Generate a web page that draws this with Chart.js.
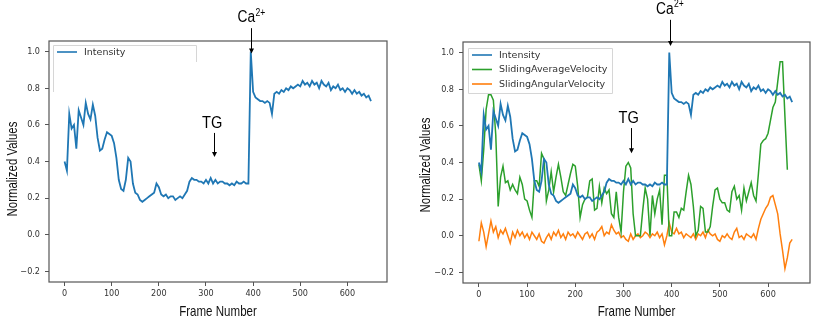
<!DOCTYPE html>
<html lang="en">
<head>
<meta charset="UTF-8">
<title>Intensity and velocity</title>
<style>
  body { margin: 0; background: #fff; }
  .painel { position: absolute; top: 0; width: 415px; height: 330px; }
  #esq { left: 0; }
  #dir { left: 414px; }
</style>
</head>
<body>
<div class="painel" id="esq"><canvas id="graficoIntensidade" width="415" height="330"></canvas></div>
<div class="painel" id="dir"><canvas id="graficoVelocidade" width="415" height="330"></canvas></div>
<script src="https://cdn.jsdelivr.net/npm/chart.js"></script>
<script>
const frames = [
  0, 5, 10, 15, 20, 25, 30, 35, 40, 45, 50, 55, 60, 65, 70, 75, 80, 85, 90, 95,
  100, 105, 110, 115, 120, 125, 130, 135, 140, 145, 150, 155, 160, 165, 170, 175, 180, 185, 190, 195,
  200, 205, 210, 215, 220, 225, 230, 235, 240, 245, 250, 255, 260, 265, 270, 275, 280, 285, 290, 295,
  300, 305, 310, 315, 320, 325, 330, 335, 340, 345, 350, 355, 360, 365, 370, 375, 380, 385, 390, 395,
  400, 405, 410, 415, 420, 425, 430, 435, 440, 445, 450, 455, 460, 465, 470, 475, 480, 485, 490, 495,
  500, 505, 510, 515, 520, 525, 530, 535, 540, 545, 550, 555, 560, 565, 570, 575, 580, 585, 590, 595,
  600, 605, 610, 615, 620, 625, 630, 635, 640, 645, 650
];

const intensity = [
  0.40, 0.35, 0.66, 0.58, 0.60, 0.47, 0.68, 0.64, 0.60, 0.72, 0.66, 0.63, 0.71, 0.65, 0.53, 0.46, 0.47, 0.52, 0.56, 0.55,
  0.54, 0.50, 0.42, 0.30, 0.25, 0.24, 0.30, 0.42, 0.40, 0.28, 0.23, 0.22, 0.19, 0.18, 0.19, 0.20, 0.21, 0.22, 0.23, 0.28,
  0.26, 0.22, 0.21, 0.22, 0.20, 0.21, 0.21, 0.19, 0.20, 0.21, 0.20, 0.22, 0.24, 0.29, 0.31, 0.30, 0.30, 0.29, 0.29, 0.28,
  0.30, 0.28, 0.31, 0.28, 0.30, 0.28, 0.29, 0.29, 0.28, 0.28, 0.27, 0.28, 0.27, 0.29, 0.28, 0.28, 0.29, 0.28, 0.28, 1.00,
  0.78, 0.75, 0.74, 0.73, 0.73, 0.72, 0.73, 0.72, 0.66, 0.77, 0.78, 0.77, 0.79, 0.78, 0.80, 0.79, 0.81, 0.80, 0.81, 0.82,
  0.81, 0.84, 0.82, 0.83, 0.81, 0.84, 0.82, 0.83, 0.80, 0.84, 0.82, 0.81, 0.83, 0.79, 0.81, 0.80, 0.82, 0.79, 0.80, 0.78,
  0.80, 0.79, 0.77, 0.79, 0.77, 0.78, 0.76, 0.77, 0.75, 0.76, 0.73
];

const slidingAverageVelocity = [
  0.39, 0.30, 0.47, 0.69, 0.77, 0.77, 0.74, 0.55, 0.16, 0.32, 0.38, 0.29, 0.30, 0.25, 0.28, 0.25, 0.23, 0.32, 0.28, 0.20,
  0.19, 0.14, 0.10, 0.30, 0.30, 0.27, 0.45, 0.42, 0.19, 0.25, 0.35, 0.24, 0.32, 0.39, 0.32, 0.24, 0.22, 0.28, 0.34, 0.39,
  0.38, 0.27, 0.10, 0.17, 0.20, 0.21, 0.30, 0.31, 0.14, 0.15, 0.27, 0.18, 0.26, 0.23, 0.25, 0.12, 0.10, 0.24, 0.10, 0.02,
  0.24, 0.38, 0.40, 0.37, 0.12, 0.00, 0.00, 0.00, 0.14, 0.26, 0.20, 0.00, 0.22, 0.12, 0.20, 0.25, 0.06, 0.33, 0.33, 0.00,
  0.00, 0.13, 0.13, 0.10, 0.15, 0.14, 0.24, 0.33, 0.28, 0.16, 0.00, 0.03, 0.16, 0.15, 0.02, 0.02, 0.05, 0.16, 0.25, 0.26,
  0.20, 0.18, 0.18, 0.14, 0.13, 0.24, 0.27, 0.20, 0.22, 0.14, 0.26, 0.19, 0.24, 0.29, 0.22, 0.19, 0.34, 0.50, 0.52, 0.53,
  0.56, 0.63, 0.70, 0.73, 0.84, 0.95, 0.95, 0.65, 0.36, null, null
];

const slidingAngularVelocity = [
  -0.03, 0.07, 0.02, -0.06, 0.01, 0.08, 0.02, 0.05, -0.01, 0.03, 0.01, 0.04, 0.00, -0.04, 0.02, -0.01, 0.03, 0.00, 0.02, -0.01,
  0.01, -0.02, 0.02, 0.00, -0.02, 0.01, -0.03, -0.04, -0.01, 0.01, -0.02, 0.02, 0.00, 0.03, -0.01, 0.01, -0.02, 0.02, 0.00, 0.01,
  -0.01, 0.02, 0.00, -0.02, 0.01, 0.02, -0.01, 0.01, -0.02, 0.02, 0.03, 0.05, 0.00, 0.02, 0.01, 0.06, 0.03, 0.01, 0.02, -0.01,
  0.00, -0.02, -0.03, 0.01, -0.02, 0.00, 0.01, -0.01, 0.00, 0.02, 0.01, -0.01, 0.01, 0.00, 0.02, -0.01, 0.01, -0.05, 0.00, 0.07,
  0.02, 0.01, 0.04, 0.01, 0.02, -0.01, 0.01, 0.00, -0.01, 0.01, -0.02, 0.01, 0.00, 0.02, -0.01, 0.03, 0.01, 0.00, 0.01, -0.02,
  -0.03, 0.00, -0.01, 0.01, -0.01, -0.02, 0.02, 0.04, -0.01, 0.00, -0.02, 0.01, 0.00, -0.01, 0.01, -0.02, 0.04, 0.09, 0.12, 0.15,
  0.17, 0.21, 0.22, 0.17, 0.12, 0.01, -0.08, -0.18, -0.12, -0.04, -0.02
];

const xTicks = [0, 100, 200, 300, 400, 500, 600];
const yTicks = [-0.2, 0.0, 0.2, 0.4, 0.6, 0.8, 1.0];

const azul = '#1f77b4';
const verde = '#2ca02c';
const laranja = '#ff7f0e';
const fonteTitulo = '"Liberation Sans", Arial, sans-serif';
const fonteTicks = '"DejaVu Sans Condensed", "DejaVu Sans", sans-serif';

function serie(label, valores, cor, largura) {
  return {
    label: label,
    data: frames.map((f, i) => ({ x: f, y: valores[i] })),
    borderColor: cor,
    backgroundColor: cor,
    borderWidth: largura,
    pointRadius: 0,
    tension: 0,
    spanGaps: false
  };
}

// texto comprimido na horizontal (fonte estreita)
function textoEstreito(ctx, texto, x, y, tamanho, k) {
  ctx.save();
  ctx.translate(x, y);
  ctx.scale(k, 1);
  ctx.font = tamanho + 'px ' + fonteTitulo;
  ctx.fillText(texto, 0, 0);
  const w = ctx.measureText(texto).width * k;
  ctx.restore();
  return w;
}

// moldura (spines) em volta da area do grafico
const moldura = {
  id: 'moldura',
  afterDatasetsDraw(chart) {
    const { ctx, chartArea: a } = chart;
    ctx.save();
    ctx.strokeStyle = '#555';
    ctx.lineWidth = 1.2;
    ctx.strokeRect(a.left, a.top, a.right - a.left, a.bottom - a.top);
    ctx.restore();
  }
};

// titulos dos eixos
function titulos(yCentro, xBase) {
  return {
    id: 'titulos',
    afterDraw(chart) {
      const ctx = chart.ctx;
      const a = chart.chartArea;
      ctx.save();
      ctx.fillStyle = '#111';
      ctx.textAlign = 'center';
      ctx.textBaseline = 'alphabetic';
      textoEstreito(ctx, 'Frame Number', (a.left + a.right) / 2, 316, 15, 0.77);
      ctx.translate(xBase, yCentro);
      ctx.rotate(-Math.PI / 2);
      textoEstreito(ctx, 'Normalized Values', 0, 0, 15, 0.76);
      ctx.restore();
    }
  };
}

// legenda desenhada dentro da area do grafico
function legenda(cfg) {
  return {
    id: 'legenda',
    afterDatasetsDraw(chart) {
      const ctx = chart.ctx;
      const a = chart.chartArea;
      const x = a.left + cfg.dx, y = a.top + cfg.dy;
      ctx.save();
      ctx.fillStyle = 'rgba(255,255,255,0.8)';
      ctx.fillRect(x, y, cfg.w, cfg.h);
      ctx.strokeStyle = '#d6d6d6';
      ctx.lineWidth = 1;
      ctx.beginPath();
      if (cfg.aberta) {
        ctx.moveTo(x + 0.5, y + cfg.h);
        ctx.lineTo(x + 0.5, y + 0.5);
        ctx.lineTo(x + cfg.w - 0.5, y + 0.5);
        ctx.lineTo(x + cfg.w - 0.5, y + 17);
      } else {
        ctx.rect(x + 0.5, y + 0.5, cfg.w - 1, cfg.h - 1);
      }
      ctx.stroke();
      ctx.font = '9.5px "DejaVu Sans", sans-serif';
      ctx.textBaseline = 'middle';
      chart.data.datasets.forEach((ds, i) => {
        const ly = y + 7 + i * 14.5;
        ctx.strokeStyle = ds.borderColor;
        ctx.lineWidth = 1.6;
        ctx.beginPath();
        ctx.moveTo(x + 4, ly);
        ctx.lineTo(x + 24, ly);
        ctx.stroke();
        ctx.fillStyle = '#333';
        ctx.fillText(ds.label, x + 31, ly + 0.5);
      });
      ctx.restore();
    }
  };
}

// textos "Ca2+" e "TG" com setas
function notas(lista) {
  return {
    id: 'notas',
    afterDraw(chart) {
      const ctx = chart.ctx;
      const sx = chart.scales.x, sy = chart.scales.y;
      ctx.save();
      lista.forEach(n => {
        const px = Math.round(sx.getPixelForValue(n.frame)) + 0.5;
        const yBase = sy.getPixelForValue(n.textY);
        const y0 = sy.getPixelForValue(n.from);
        const y1 = sy.getPixelForValue(n.to);
        ctx.fillStyle = '#000';
        ctx.textAlign = 'left';
        ctx.textBaseline = 'alphabetic';
        const w = textoEstreito(ctx, n.text, px + n.dx, yBase, n.size, 0.86);
        if (n.sup) {
          textoEstreito(ctx, n.sup, px + n.dx + w + 0.5, yBase - 6.5, 10, 0.86);
        }
        ctx.strokeStyle = '#000';
        ctx.lineWidth = 1;
        ctx.beginPath();
        ctx.moveTo(px, y0);
        ctx.lineTo(px, y1 - 4);
        ctx.stroke();
        ctx.beginPath();
        ctx.moveTo(px - 2.5, y1 - 5);
        ctx.lineTo(px + 2.5, y1 - 5);
        ctx.lineTo(px, y1);
        ctx.closePath();
        ctx.fill();
      });
      ctx.restore();
    }
  };
}

function opcoes(xMax, padTop, padRight, alturaX) {
  return {
    responsive: false,
    animation: false,
    layout: { padding: { top: padTop, right: padRight, left: 0, bottom: 0 } },
    plugins: { legend: { display: false }, tooltip: { enabled: false } },
    scales: {
      x: {
        type: 'linear',
        min: -33,
        max: xMax,
        afterFit: s => { s.height = alturaX; },
        afterBuildTicks: s => { s.ticks = xTicks.map(v => ({ value: v })); },
        ticks: { autoSkip: false, maxRotation: 0, padding: 2, color: '#333', font: { family: fonteTicks, size: 9 } },
        grid: { display: true, drawOnChartArea: false, drawTicks: true, tickLength: 4, color: '#555' },
        border: { display: false }
      },
      y: {
        min: -0.258,
        max: 1.058,
        afterFit: s => { s.width = 49; },
        afterBuildTicks: s => { s.ticks = yTicks.map(v => ({ value: v })); },
        ticks: {
          padding: 5, color: '#333', font: { family: fonteTicks, size: 9 },
          callback: v => v.toFixed(1).replace('-', '\u2212')
        },
        grid: { display: true, drawOnChartArea: false, drawTicks: true, tickLength: 4, color: '#555' },
        border: { display: false }
      }
    }
  };
}

new Chart(document.getElementById('graficoIntensidade'), {
  type: 'line',
  data: { datasets: [serie('Intensity', intensity, azul, 1.8)] },
  options: opcoes(684, 41, 28, 48),
  plugins: [
    moldura,
    titulos(169, 17),
    legenda({ dx: 4, dy: 4, w: 144, h: 47, aberta: true }),
    notas([
      { frame: 395, text: 'Ca', sup: '2+', size: 16, dx: -14, textY: 1.161, from: 1.128, to: 0.99 },
      { frame: 316, text: 'TG', size: 17, dx: -12.5, textY: 0.583, from: 0.556, to: 0.425 }
    ])
  ]
});

new Chart(document.getElementById('graficoVelocidade'), {
  type: 'line',
  data: {
    datasets: [
      serie('Intensity', intensity, azul, 1.8),
      serie('SlidingAverageVelocity', slidingAverageVelocity, verde, 1.5),
      serie('SlidingAngularVelocity', slidingAngularVelocity, laranja, 1.5)
    ]
  },
  options: opcoes(687, 42, 19, 47),
  plugins: [
    moldura,
    titulos(165, 16),
    legenda({ dx: 5, dy: 6, w: 145, h: 46, aberta: false }),
    notas([
      { frame: 396, text: 'Ca', sup: '2+', size: 16, dx: -14.5, textY: 1.211, from: 1.179, to: 1.036 },
      { frame: 316.5, text: 'TG', size: 17, dx: -13, textY: 0.615, from: 0.588, to: 0.45 }
    ])
  ]
});
</script>
</body>
</html>
